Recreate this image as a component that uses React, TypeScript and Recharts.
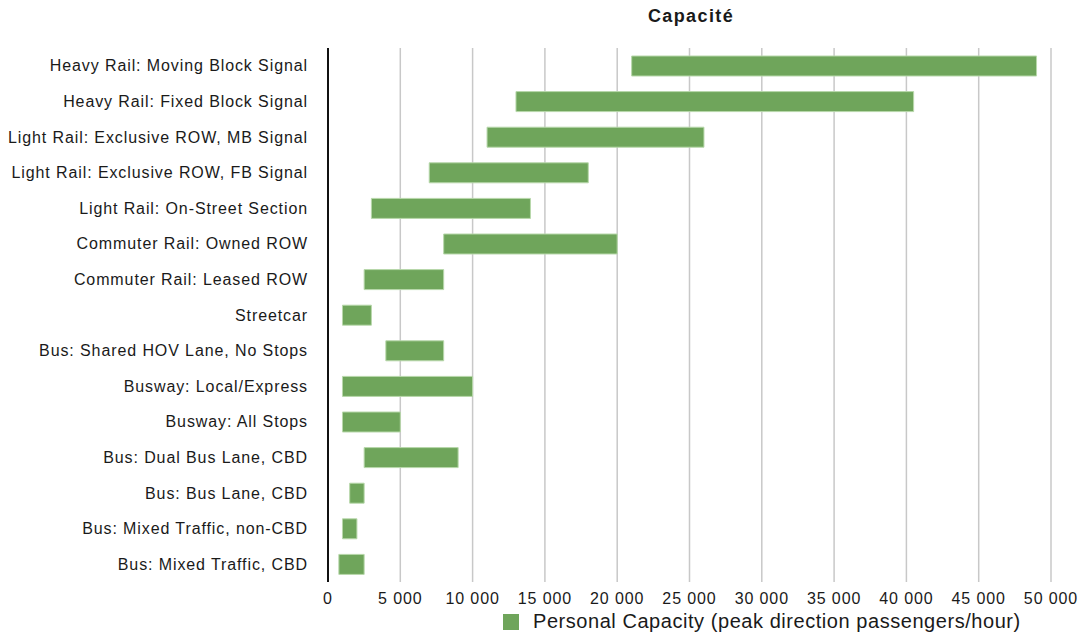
import React from "react";
import { BarChart, Bar, XAxis, YAxis, CartesianGrid } from "recharts";

const categories = [
  "Heavy Rail: Moving Block Signal",
  "Heavy Rail: Fixed Block Signal",
  "Light Rail: Exclusive ROW, MB Signal",
  "Light Rail: Exclusive ROW, FB Signal",
  "Light Rail: On-Street Section",
  "Commuter Rail: Owned ROW",
  "Commuter Rail: Leased ROW",
  "Streetcar",
  "Bus: Shared HOV Lane, No Stops",
  "Busway: Local/Express",
  "Busway: All Stops",
  "Bus: Dual Bus Lane, CBD",
  "Bus: Bus Lane, CBD",
  "Bus: Mixed Traffic, non-CBD",
  "Bus: Mixed Traffic, CBD",
];

const lowValues = [21000, 13000, 11000, 7000, 3000, 8000, 2500, 1000, 4000, 1000, 1000, 2500, 1500, 1000, 750];
const highValues = [49000, 40500, 26000, 18000, 14000, 20000, 8000, 3000, 8000, 10000, 5000, 9000, 2500, 2000, 2500];

const xTicks = [0, 5000, 10000, 15000, 20000, 25000, 30000, 35000, 40000, 45000, 50000];

const title = "Capacité";
const seriesName = "Personal Capacity (peak direction passengers/hour)";

const data = categories.map((name, i) => ({ name, range: [lowValues[i], highValues[i]] }));

const fmt = (v: number) => (v >= 1000 ? `${Math.floor(v / 1000)} ${String(v % 1000).padStart(3, "0")}` : String(v));

const FONT = '"Liberation Sans", Arial, Helvetica, sans-serif';
const GREEN = "#6fa55b";

export default function App() {
  return (
    <div style={{ position: "absolute", left: 0, top: 0, width: 1079, height: 635, background: "#fff", fontFamily: FONT }}>
      <div
        style={{
          position: "absolute",
          left: 0,
          width: 1382,
          top: 6,
          textAlign: "center",
          fontWeight: "bold",
          fontSize: 18,
          letterSpacing: 1.4,
          color: "#1a1a1a",
        }}
      >
        {title}
      </div>
      <BarChart
        width={1079}
        height={635}
        data={data}
        layout="vertical"
        margin={{ top: 48, right: 28, bottom: 23, left: 0 }}
        barCategoryGap={0}
      >
        <CartesianGrid horizontal={false} vertical stroke="#c8c8c8" strokeWidth={1.5} />
        <XAxis
          type="number"
          domain={[0, 50000]}
          ticks={xTicks}
          tickFormatter={fmt}
          axisLine={false}
          tickLine={false}
          tickSize={6}
          tickMargin={5}
          height={30}
          tick={{ fill: "#1a1a1a", fontSize: 16, fontFamily: FONT, letterSpacing: 0.9 }}
          interval={0}
        />
        <YAxis
          type="category"
          dataKey="name"
          width={328}
          axisLine={{ stroke: "#111", strokeWidth: 2 }}
          tickLine={false}
          tickSize={6}
          tickMargin={14}
          tick={{ fill: "#1a1a1a", fontSize: 16, fontFamily: FONT, letterSpacing: 0.9 }}
          interval={0}
        />
        <Bar dataKey="range" name={seriesName} fill={GREEN} stroke="#b8d8ab" strokeWidth={1} barSize={20} isAnimationActive={false} />
      </BarChart>
      <div
        style={{
          position: "absolute",
          left: 503,
          top: 610,
          display: "flex",
          alignItems: "center",
          fontSize: 20,
          letterSpacing: 0.55,
          color: "#1a1a1a",
          whiteSpace: "nowrap",
        }}
      >
        <span style={{ display: "inline-block", width: 16, height: 16, background: GREEN, marginRight: 14 }} />
        <span>{seriesName}</span>
      </div>
    </div>
  );
}
